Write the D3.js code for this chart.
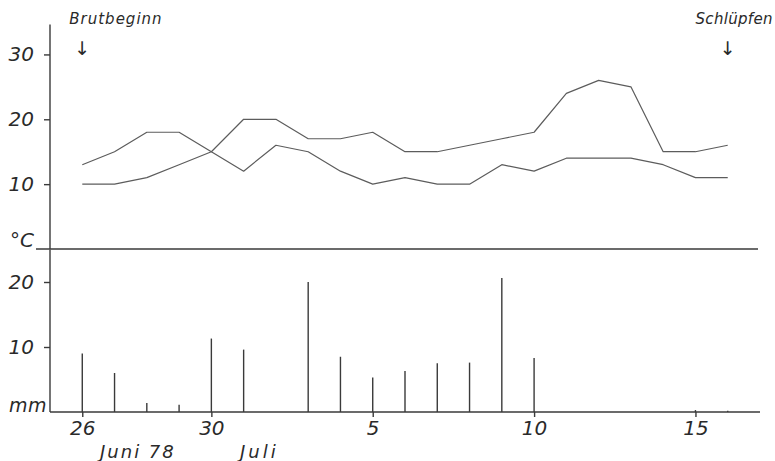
<!DOCTYPE html>
<html>
<head>
<meta charset="utf-8">
<script src="https://cdn.jsdelivr.net/npm/d3@7"></script>
<style>
  body { margin: 0; background: #fff; }
  svg text { font-family: "DejaVu Sans", sans-serif; font-style: italic; fill: #2a2a2a; }
</style>
</head>
<body>
<div id="chart"></div>
<script>
// Tage von 26. Juni bis 16. Juli 1978
const days = ["26", "27", "28", "29", "30", "1", "2", "3", "4", "5", "6", "7", "8", "9", "10", "11", "12", "13", "14", "15", "16"];
const tickDays = ["26", "30", "5", "10", "15"];

// Temperatur (°C), zwei Kurven
const tempLow = [13, 15, 18, 18, 15, 12, 16, 15, 12, 10, 11, 10, 10, 13, 12, 14, 14, 14, 13, 11, 11];
const tempHigh = [10, 10, 11, 13, 15, 20, 20, 17, 17, 18, 15, 15, 16, 17, 18, 24, 26, 25, 15, 15, 16];

// Niederschlag (mm)
const rain = [9, 6, 1.4, 1.1, 11.3, 9.6, 0, 20, 8.5, 5.3, 6.3, 7.5, 7.6, 20.6, 8.3, 0, 0, 0, 0, 0.3, 0.2];

const tempTicks = [10, 20, 30];
const rainTicks = [10, 20];

const width = 775;
const height = 461;

const svg = d3.select("#chart")
    .append("svg")
    .attr("width", width)
    .attr("height", height);

// Scales
const x = d3.scaleLinear().domain([-1, 21]).range([50, 760]);
const yTemp = d3.scaleLinear().domain([0, 35]).range([249, 22]);
const yRain = d3.scaleLinear().domain([0, 25]).range([412, 249.5]);

const ink = "#3a3a3a";

// Vertical axis (temperature part)
const tempAxis = svg.append("g")
    .attr("transform", "translate(50,0)")
    .call(d3.axisLeft(yTemp).tickValues(tempTicks).tickSize(6).tickPadding(10).tickFormat(d3.format("d")));
tempAxis.select(".domain").attr("d", `M0,${yTemp(34.6)}V${yTemp(0)}`);

// Vertical axis (rain part)
const rainAxis = svg.append("g")
    .attr("transform", "translate(50,0)")
    .call(d3.axisLeft(yRain).tickValues(rainTicks).tickSize(6).tickPadding(10).tickFormat(d3.format("d")));
rainAxis.select(".domain").attr("d", `M0,${yRain(0)}V${yRain(25)}`);

// Bottom axis
const xAxis = svg.append("g")
    .attr("transform", `translate(0,${yRain(0)})`)
    .call(d3.axisBottom(x)
        .tickValues(tickDays.map(d => days.indexOf(d)))
        .tickSize(5).tickPadding(4)
        .tickFormat(i => days[i]));
xAxis.select(".domain").attr("d", `M${x(-1)},0H${x(21)}`);

[tempAxis, rainAxis, xAxis].forEach(g => {
    g.selectAll("path, line").attr("stroke", ink).attr("stroke-width", 1.4);
    g.selectAll("text")
        .attr("font-size", 20)
        .attr("font-family", "DejaVu Sans, sans-serif")
        .attr("font-style", "italic")
        .attr("fill", "#2a2a2a");
});

// Divider line at 0 °C
svg.append("line")
    .attr("x1", 36).attr("x2", 758)
    .attr("y1", yTemp(0)).attr("y2", yTemp(0))
    .attr("stroke", ink).attr("stroke-width", 1.5);

// Temperature lines
const line = d3.line()
    .x((d, i) => x(i))
    .y(d => yTemp(d));

[tempLow, tempHigh].forEach(series => {
    svg.append("path")
        .datum(series)
        .attr("fill", "none")
        .attr("stroke", "#5c5c5c")
        .attr("stroke-width", 1.2)
        .attr("stroke-linejoin", "round")
        .attr("d", line);
});

// Rain bars
svg.selectAll(".rain")
    .data(rain)
    .enter()
    .append("line")
    .attr("class", "rain")
    .attr("x1", (d, i) => x(i))
    .attr("x2", (d, i) => x(i))
    .attr("y1", yRain(0))
    .attr("y2", d => yRain(d))
    .attr("stroke", ink)
    .attr("stroke-width", 1.4);

// Unit labels
svg.append("text").attr("x", 10).attr("y", 247).attr("font-size", 20).text("°C");
svg.append("text").attr("x", 9).attr("y", 412).attr("font-size", 19).attr("letter-spacing", 0.5).text("mm");

// Month labels
svg.append("text").attr("x", 100).attr("y", 458).attr("font-size", 18).attr("letter-spacing", 2).text("Juni 78");
svg.append("text").attr("x", 240).attr("y", 458).attr("font-size", 18).attr("letter-spacing", 3).text("Juli");

// Event markers
const events = [
    { label: "Brutbeginn", day: "26", anchor: "start", dx: -13, spacing: 1 },
    { label: "Schlüpfen", day: "16", anchor: "end", dx: 45, spacing: 0.3 }
];
events.forEach(e => {
    const cx = x(days.lastIndexOf(e.day));
    svg.append("text")
        .attr("x", cx + e.dx).attr("y", 24)
        .attr("text-anchor", e.anchor)
        .attr("font-size", 15)
        .attr("letter-spacing", e.spacing)
        .text(e.label);
    svg.append("text")
        .attr("x", cx).attr("y", 55)
        .attr("text-anchor", "middle")
        .attr("font-size", 19)
        .attr("font-style", "normal")
        .text("↓");
});
</script>
</body>
</html>
